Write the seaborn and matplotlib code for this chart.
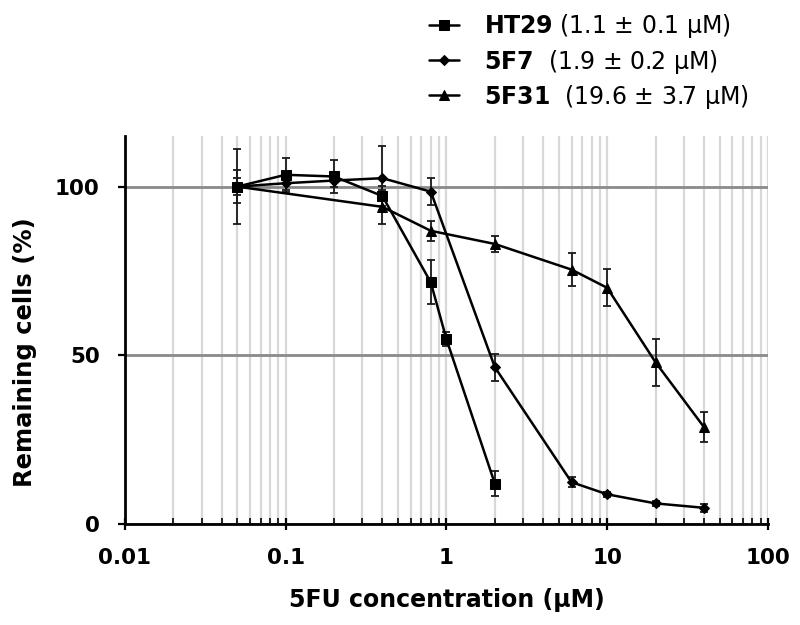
import matplotlib
matplotlib.use("Agg")
import matplotlib.pyplot as plt
import numpy as np
import pandas as pd
import seaborn as sns
from matplotlib.ticker import LogLocator, FixedLocator, NullFormatter

# data (concentration in uM, remaining cells in %)
ht29_conc = [0.05, 0.1, 0.2, 0.4, 0.8, 1, 2]
ht29_pct = [100, 103.5, 103, 97.2, 71.6, 54.8, 12.0]
ht29_err = [2.5, 5, 5, 3, 6.5, 2, 3.8]

f7_conc = [0.05, 0.1, 0.2, 0.4, 0.8, 2, 6, 10, 20, 40]
f7_pct = [100, 101, 101.8, 102.5, 98.5, 46.5, 12.4, 8.8, 6.1, 4.8]
f7_err = [5, 2, 2, 9.5, 4, 4, 1.5, 0.8, 0.8, 1.2]

f31_conc = [0.05, 0.4, 0.8, 2, 6, 10, 20, 40]
f31_pct = [100, 94, 86.9, 83, 75.4, 70, 47.9, 28.7]
f31_err = [11, 5, 3, 2.5, 5, 5.5, 7, 4.5]

names = ["HT29", "5F7", "5F31"]
ic50 = ["(1.1 ± 0.1 μM)", " (1.9 ± 0.2 μM)", " (19.6 ± 3.7 μM)"]
markers = ["s", "D", "^"]
msizes = [7, 5.5, 7.5]

df = pd.concat([
    pd.DataFrame({"conc": ht29_conc, "pct": ht29_pct, "err": ht29_err, "line": "HT29"}),
    pd.DataFrame({"conc": f7_conc, "pct": f7_pct, "err": f7_err, "line": "5F7"}),
    pd.DataFrame({"conc": f31_conc, "pct": f31_pct, "err": f31_err, "line": "5F31"}),
])

sns.set_theme(style="white")
plt.rcParams.update({
    "font.family": ["DejaVu Sans"],
    "mathtext.fontset": "dejavusans",
    "text.color": "black",
    "axes.labelcolor": "black",
    "xtick.color": "black",
    "ytick.color": "black",
})

fig = plt.figure(figsize=(8, 6.25), dpi=100)
ax = fig.add_axes([0.156, 0.1616, 0.804, 0.6208])

handles = []
for name, mk, ms in zip(names, markers, msizes):
    sub = df[df["line"] == name]
    ax.errorbar(sub["conc"], sub["pct"], yerr=sub["err"], fmt="none",
                ecolor="#1a1a1a", elinewidth=1.3, capsize=3, capthick=1.3, zorder=3)
    sns.lineplot(data=sub, x="conc", y="pct", ax=ax, color="black", lw=1.8,
                 marker=mk, markersize=ms, markeredgecolor="black",
                 estimator=None, sort=True, legend=False, zorder=4)
    handles.append(ax.lines[-1])

ax.set_xscale("log")
ax.set_xlim(0.01, 100)
ax.set_ylim(0, 115)

ax.xaxis.set_minor_locator(LogLocator(base=10, subs=np.arange(2, 10), numticks=20))
ax.xaxis.set_minor_formatter(NullFormatter())
ax.set_xticks([0.01, 0.1, 1, 10, 100])
ax.set_xticklabels(["0.01", "0.1", "1", "10", "100"])
ax.yaxis.set_major_locator(FixedLocator([0, 50, 100]))

# light vertical grid at every tick, darker horizontal lines at 50 and 100
ax.grid(True, which="both", axis="x", color="#d8d8d8", lw=1.6)
ax.grid(True, which="major", axis="y", color="#8a8a8a", lw=2)
ax.set_axisbelow(True)

for side in ["top", "right"]:
    ax.spines[side].set_visible(False)
for side in ["left", "bottom"]:
    ax.spines[side].set_color("black")
    ax.spines[side].set_linewidth(2)

ax.tick_params(axis="x", which="major", direction="inout", length=9, width=1.6,
               labelsize=15.5, bottom=True, pad=13)
ax.tick_params(axis="x", which="minor", direction="in", length=4, width=1.2, bottom=True)
ax.tick_params(axis="y", which="major", direction="out", length=5, width=1.6,
               labelsize=15.5, left=True, pad=13)
ax.set_xlabel("5FU concentration (μM)", fontsize=17, fontweight="bold", labelpad=14)
ax.set_ylabel("Remaining cells (%)", fontsize=17.5, fontweight="bold")
ax.yaxis.set_label_coords(-0.137, 0.443)
for lab in ax.get_xticklabels() + ax.get_yticklabels():
    lab.set_fontweight("bold")

labels = [r"$\mathbf{%s}$" % n + " " + t for n, t in zip(names, ic50)]
leg = fig.legend(handles, labels, loc="upper left", bbox_to_anchor=(0.536, 0.98),
                 frameon=False, handlelength=1.3, handletextpad=1.05,
                 labelspacing=0.3, borderpad=0, borderaxespad=0,
                 prop={"weight": "normal", "size": 17})
for h in leg.legend_handles:
    h.set_linewidth(1.8)

fig.savefig("out.png", dpi=100)
